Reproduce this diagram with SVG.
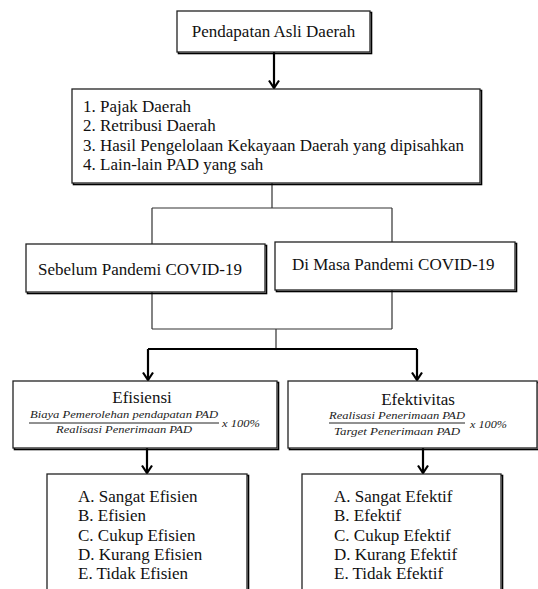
<svg xmlns="http://www.w3.org/2000/svg" width="538" height="589" viewBox="0 0 538 589">
<style>
.box{fill:#fff;stroke:#222;stroke-width:1.3}
.sh{fill:none;stroke:#000;stroke-width:1.6}
.t{font-family:'Liberation Serif','Times New Roman',Tinos,'DejaVu Serif',serif;font-size:17px;fill:#111}
.f{font-family:'Liberation Serif','Times New Roman','DejaVu Serif',serif;font-style:italic;font-size:10px;fill:#222}
.thin{fill:none;stroke:#333;stroke-width:1.2}
.thick{fill:none;stroke:#000;stroke-width:2.2}
</style>
<defs>
<marker id="arr" markerUnits="userSpaceOnUse" markerWidth="12" markerHeight="12" viewBox="0 0 12 12" refX="10" refY="6" orient="auto">
<path d="M2.5,1 L10,6 L2.5,11" fill="none" stroke="#000" stroke-width="2.2"/>
</marker>
</defs>
<g id="connectors">
<path class="thick" d="M274,52 V88" marker-end="url(#arr)"/>
<path class="thin" d="M272,183 V208 M152,208 H392 M152,208 V244 M392,208 V242"/>
<path class="thin" d="M152,292 V329 M392,290 V329 M152,329 H392 M276,329 V349"/>
<path class="thick" d="M148,349 H417"/>
<path class="thick" d="M148,349 V380" marker-end="url(#arr)"/>
<path class="thick" d="M417,349 V380" marker-end="url(#arr)"/>
<path class="thick" d="M147,448 V473" marker-end="url(#arr)"/>
<path class="thick" d="M423,448 V473" marker-end="url(#arr)"/>
</g>
<g id="pad">
<rect class="sh" x="178.5" y="12.5" width="193" height="41"/>
<rect class="box" x="177" y="11" width="193" height="41"/>
<text class="t" x="273.5" y="37" text-anchor="middle">Pendapatan Asli Daerah</text>
</g>
<g id="sumber">
<rect class="sh" x="73.5" y="90.5" width="408" height="94"/>
<rect class="box" x="72" y="89" width="408" height="94"/>
<text class="t" x="83" y="112">1. Pajak Daerah</text>
<text class="t" x="83" y="131">2. Retribusi Daerah</text>
<text class="t" x="83" y="150.5">3. Hasil Pengelolaan Kekayaan Daerah yang dipisahkan</text>
<text class="t" x="83" y="170">4. Lain-lain PAD yang sah</text>
</g>
<g id="sebelum">
<rect class="sh" x="27.5" y="245.5" width="239" height="48"/>
<rect class="box" x="26" y="244" width="239" height="48"/>
<text class="t" x="38" y="275">Sebelum Pandemi COVID-19</text>
</g>
<g id="dimasa">
<rect class="sh" x="276.5" y="243.5" width="240" height="48"/>
<rect class="box" x="275" y="242" width="240" height="48"/>
<text class="t" x="292" y="270">Di Masa Pandemi COVID-19</text>
</g>
<g id="efisiensi">
<rect class="sh" x="14.5" y="382.5" width="264" height="67"/>
<rect class="box" x="13" y="381" width="264" height="67"/>
<text class="t" x="142" y="403" text-anchor="middle">Efisiensi</text>
<text class="f" x="30" y="418" textLength="188" lengthAdjust="spacingAndGlyphs">Biaya Pemerolehan pendapatan PAD</text>
<line x1="29" y1="423" x2="219" y2="423" stroke="#222" stroke-width="1"/>
<text class="f" x="56" y="433" textLength="136" lengthAdjust="spacingAndGlyphs">Realisasi Penerimaan PAD</text>
<text class="f" x="222" y="427" textLength="38" lengthAdjust="spacingAndGlyphs">x 100%</text>
</g>
<g id="efektivitas">
<rect class="sh" x="289.5" y="382.5" width="249" height="67"/>
<rect class="box" x="288" y="381" width="249" height="67"/>
<text class="t" x="418" y="405" text-anchor="middle">Efektivitas</text>
<text class="f" x="329" y="419" textLength="136" lengthAdjust="spacingAndGlyphs">Realisasi Penerimaan PAD</text>
<line x1="329" y1="423" x2="465" y2="423" stroke="#222" stroke-width="1"/>
<text class="f" x="334" y="435" textLength="126" lengthAdjust="spacingAndGlyphs">Target Penerimaan PAD</text>
<text class="f" x="470" y="428" textLength="37" lengthAdjust="spacingAndGlyphs">x 100%</text>
</g>
<g id="kriteria-efisiensi">
<rect class="sh" x="48.5" y="475.5" width="200" height="130"/>
<rect class="box" x="47" y="474" width="200" height="130"/>
<text class="t" x="78" y="502">A. Sangat Efisien</text>
<text class="t" x="78" y="521">B. Efisien</text>
<text class="t" x="78" y="541">C. Cukup Efisien</text>
<text class="t" x="78" y="560">D. Kurang Efisien</text>
<text class="t" x="78" y="579">E. Tidak Efisien</text>
</g>
<g id="kriteria-efektivitas">
<rect class="sh" x="303.5" y="475.5" width="199" height="130"/>
<rect class="box" x="302" y="474" width="199" height="130"/>
<text class="t" x="334" y="502">A. Sangat Efektif</text>
<text class="t" x="334" y="521">B. Efektif</text>
<text class="t" x="334" y="541">C. Cukup Efektif</text>
<text class="t" x="334" y="560">D. Kurang Efektif</text>
<text class="t" x="334" y="579">E. Tidak Efektif</text>
</g>
</svg>
